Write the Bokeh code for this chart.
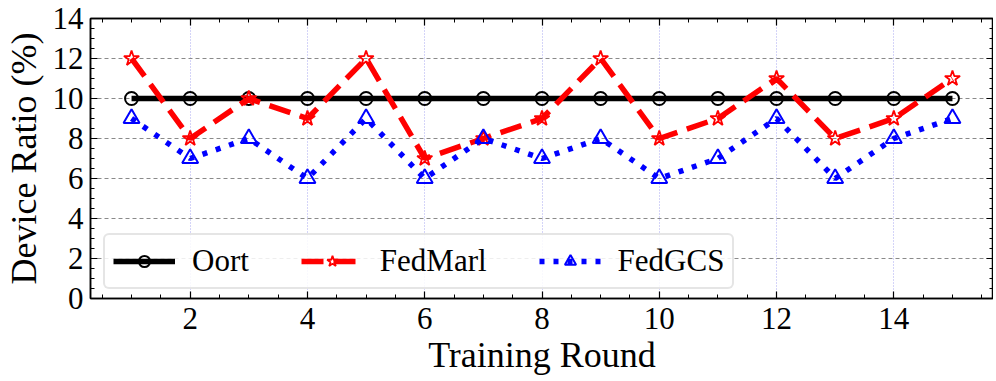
from bokeh.plotting import figure
from bokeh.models import Range1d, LinearAxis, SingleIntervalTicker, Legend, LegendItem, CustomJSTickFormatter
from bokeh.embed import file_html
from bokeh.resources import INLINE

rounds = list(range(1, 16))
oort = [10, 10, 10, 10, 10, 10, 10, 10, 10, 10, 10, 10, 10, 10, 10]
fedmarl = [12, 8, 10, 9, 12, 7, 8, 9, 12, 8, 9, 11, 8, 9, 11]
fedgcs = [9, 7, 8, 6, 9, 6, 8, 7, 8, 6, 7, 9, 6, 8, 9]

FONT = "Liberation Serif"

p = figure(width=993, height=377, output_backend="svg", toolbar_location=None,
           x_range=Range1d(0.3, 15.7), y_range=Range1d(0, 14),
           min_border_left=84, min_border_right=0, min_border_top=18, min_border_bottom=79,
           x_axis_label="Training Round", y_axis_label="Device Ratio (%)")
p.outline_line_color = "black"
p.outline_line_width = 1.5
p.background_fill_color = "white"
p.border_fill_color = "white"

def style_axis(ax, labels=True):
    ax.ticker = SingleIntervalTicker(interval=2, num_minor_ticks=4)
    ax.major_tick_in = 7
    ax.major_tick_out = 0
    ax.minor_tick_in = 4
    ax.minor_tick_out = 0
    ax.axis_line_color = "black"
    ax.axis_line_width = 1.5
    ax.major_tick_line_width = 1.2
    ax.minor_tick_line_width = 1
    ax.major_label_text_font = FONT
    ax.major_label_text_font_size = "31px"
    ax.major_label_text_color = "black"
    ax.axis_label_text_font = FONT
    ax.axis_label_text_font_size = "36px"
    ax.axis_label_text_font_style = "normal"
    ax.axis_label_text_color = "black"
    if not labels:
        ax.formatter = CustomJSTickFormatter(code="return ''")
        ax.major_label_text_font_size = "1px"
        ax.major_label_standoff = 0
        ax.axis_label_standoff = 0

style_axis(p.xaxis[0])
style_axis(p.yaxis[0])
p.xaxis[0].major_label_standoff = 9
p.yaxis[0].major_label_standoff = 7
p.xaxis[0].axis_label_standoff = 3
p.yaxis[0].axis_label_standoff = 6

top = LinearAxis()
style_axis(top, labels=False)
p.add_layout(top, "above")
right = LinearAxis()
style_axis(right, labels=False)
p.add_layout(right, "right")

p.xgrid.ticker = SingleIntervalTicker(interval=2)
p.ygrid.ticker = SingleIntervalTicker(interval=2)
p.xgrid.grid_line_color = "#a8a8f0"
p.xgrid.grid_line_dash = "1 2"
p.xgrid.grid_line_width = 1
p.ygrid.grid_line_color = "#8a8a8a"
p.ygrid.grid_line_dash = "4 3"
p.ygrid.grid_line_width = 1

lw = 5.5
l1 = p.line(rounds, oort, line_color="black", line_width=lw)
m1 = p.scatter(rounds, oort, marker="circle", size=13, fill_color=None,
               line_color="black", line_width=2)
l2 = p.line(rounds, fedmarl, line_color="red", line_width=lw, line_dash="22 10")
m2 = p.scatter(rounds, fedmarl, marker="star", size=16, fill_color=None,
               line_color="red", line_width=1.8)
l3 = p.line(rounds, fedgcs, line_color="blue", line_width=lw, line_dash="5 9")
m3 = p.scatter(rounds, fedgcs, marker="triangle", size=16, fill_color=None,
               line_color="blue", line_width=2)

legend = Legend(items=[
    LegendItem(label="Oort", renderers=[l1, m1]),
    LegendItem(label="FedMarl", renderers=[l2, m2]),
    LegendItem(label="FedGCS", renderers=[l3, m3]),
], orientation="horizontal", location=(13, 9))
legend.label_text_font = FONT
legend.label_text_font_size = "31px"
legend.label_text_color = "black"
legend.glyph_width = 62
legend.glyph_height = 28
legend.label_standoff = 17
legend.spacing = 52
legend.padding = 8
legend.margin = 0
legend.border_line_color = "#cccccc"
legend.border_line_width = 2
legend.border_radius = 6
legend.background_fill_color = "white"
legend.background_fill_alpha = 0.85
p.add_layout(legend, "center")

open("out.html", "w").write(file_html(p, INLINE))
